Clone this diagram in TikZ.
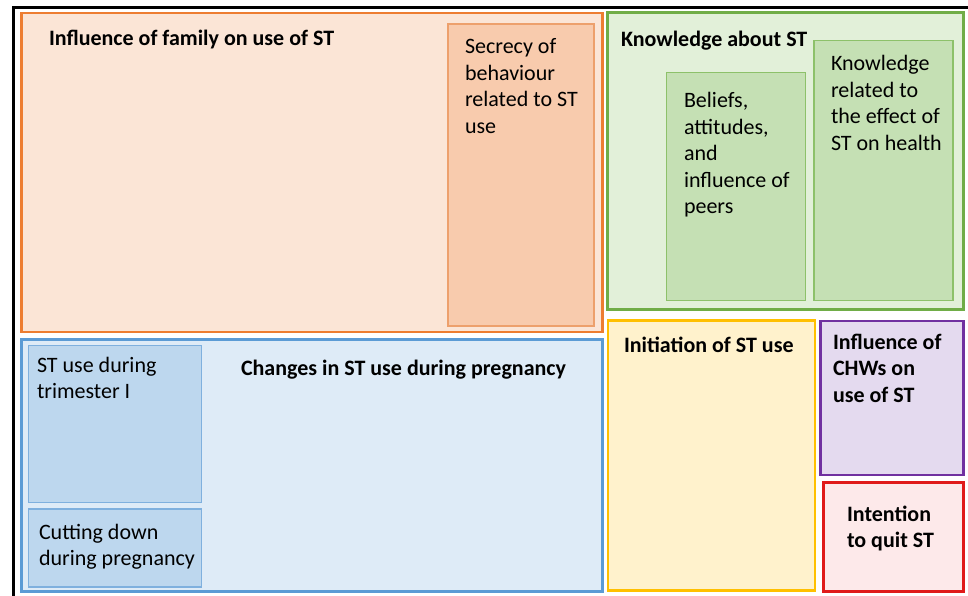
\documentclass[tikz,border=0pt]{standalone}
\usepackage{fontspec}
\setmainfont{Carlito}
\definecolor{orD}{HTML}{ED7D31}
\definecolor{orF}{HTML}{FBE5D6}
\definecolor{orI}{HTML}{F8CBAD}
\definecolor{orIB}{HTML}{EDA06C}
\definecolor{grD}{HTML}{70AD47}
\definecolor{grF}{HTML}{E2F0D9}
\definecolor{grI}{HTML}{C5E0B4}
\definecolor{grIB}{HTML}{8DC16A}
\definecolor{blD}{HTML}{5B9BD5}
\definecolor{blF}{HTML}{DEEBF7}
\definecolor{blI}{HTML}{BDD7EE}
\definecolor{blIB}{HTML}{7FB0DE}
\definecolor{yeD}{HTML}{FFC000}
\definecolor{yeF}{HTML}{FFF2CC}
\definecolor{puD}{HTML}{7030A0}
\definecolor{puF}{HTML}{E4DAEF}
\definecolor{reD}{HTML}{E01A1A}
\definecolor{reF}{HTML}{FDE9EA}
\newcommand\mylines[1]{\parbox[t]{200pt}{\raggedright #1}}
\begin{document}
\begin{tikzpicture}[x=1pt,y=-1pt,
  boxshape/.style={draw, anchor=north west, inner sep=0pt, outer sep=0pt},
  outerbox/.style={boxshape, line width=2.9pt},
  innerbox/.style={boxshape, line width=1.2pt},
  lbl/.style={anchor=base west, inner sep=0pt, outer sep=0pt, text=black,
    font=\fontsize{22}{26.5}\selectfont},
  blbl/.style={lbl, font=\fontsize{22}{26.5}\selectfont\bfseries}]
\useasboundingbox (0,0) rectangle (968,596);
% frame
\coordinate (fa) at (13.5,596);
\coordinate (fb) at (13.5,7.5);
\coordinate (fc) at (968,7.5);
\draw[line width=2.8pt, black] (fa) -- (fb) -- (fc);
% orange
\node[outerbox, draw=orD, fill=orF, minimum width=581pt, minimum height=319pt] (fam) at (21.5,13) {};
\node[innerbox, draw=orIB, fill=orI, minimum width=146pt, minimum height=302pt] (sec) at (448,24) {};
% green
\node[outerbox, draw=grD, fill=grF, minimum width=356pt, minimum height=297pt] (know) at (607.5,12.5) {};
\node[innerbox, draw=grIB, fill=grI, minimum width=139pt, minimum height=228pt] (bel) at (666.5,72.5) {};
\node[innerbox, draw=grIB, fill=grI, minimum width=139pt, minimum height=260pt] (krel) at (814,40.5) {};
% blue
\node[outerbox, draw=blD, fill=blF, minimum width=581pt, minimum height=252pt] (chg) at (21.5,339.5) {};
\node[innerbox, draw=blIB, fill=blI, minimum width=173pt, minimum height=157pt] (tri) at (28.5,345.5) {};
\node[innerbox, draw=blIB, fill=blI, minimum width=173pt, minimum height=78pt] (cut) at (28.5,509) {};
% yellow
\node[outerbox, draw=yeD, fill=yeF, minimum width=207pt, minimum height=270pt] (init) at (608,320.5) {};
% purple
\node[outerbox, draw=puD, fill=puF, minimum width=143pt, minimum height=154pt] (chw) at (820.5,321) {};
% red
\node[outerbox, draw=reD, fill=reF, minimum width=140pt, minimum height=109pt] (quit) at (823.5,482.5) {};
% texts
\node[blbl] (famt) at (49,46) {Influence of family on use of ST};
\node[lbl] (sect) at (465,54) {\mylines{Secrecy of\\behaviour\\related to ST\\use}};
\node[blbl] (knowt) at (621,47) {Knowledge about ST};
\node[lbl] (belt) at (684,108) {\mylines{Beliefs,\\attitudes,\\and\\influence of\\peers}};
\node[lbl] (krelt) at (831,71) {\mylines{Knowledge\\related to\\the effect of\\ST on health}};
\node[blbl] (chgt) at (241,375) {Changes in ST use during pregnancy};
\node[lbl] (trit) at (37,372) {\mylines{ST use during\\trimester I}};
\node[lbl] (cutt) at (39,539) {\mylines{Cutting down\\during pregnancy}};
\node[blbl] (initt) at (624,352) {Initiation of ST use};
\node[blbl] (chwt) at (833,349) {\mylines{Influence of\\CHWs on\\use of ST}};
\node[blbl] (quitt) at (847,521) {\mylines{Intention\\to quit ST}};
\end{tikzpicture}
\end{document}
